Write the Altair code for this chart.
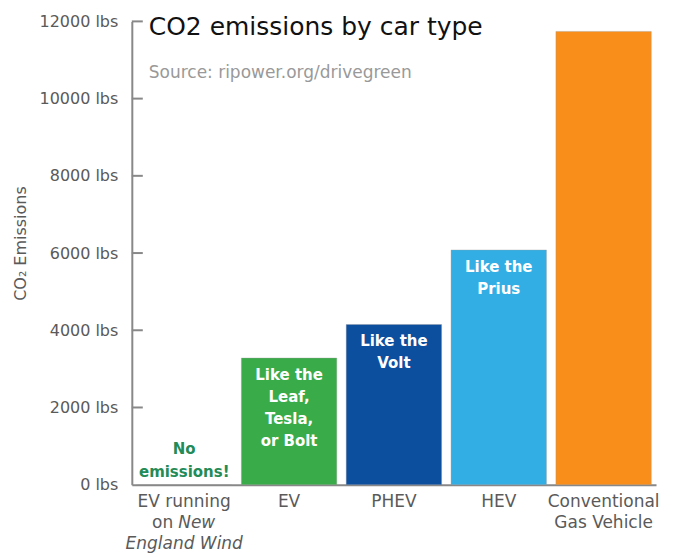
import altair as alt
import pandas as pd

# ---- data ----
categories = ["EV-Wind", "EV", "PHEV", "HEV", "Conventional"]
values = [0, 3280, 4150, 6080, 11740]
bar_colors = ["#3aab49", "#3aab49", "#0d4f9f", "#33aee4", "#f98e1a"]
bar_notes = ["", "Like the\nLeaf,\nTesla,\nor Bolt", "Like the\nVolt", "Like the\nPrius", ""]
zero_note_cat = ["EV-Wind"]
zero_note_text = ["No\nemissions!"]
label_line1 = ["EV running", "EV", "PHEV", "HEV", "Conventional\nGas Vehicle"]
label_on = ["on"]
label_new = ["New"]
label_line3 = ["England Wind"]
y_ticks = [0, 2000, 4000, 6000, 8000, 10000, 12000]

W, H = 525, 464
FONT = "DejaVu Sans"
GREY = "#888888"
LABEL = "#5a5a5a"

df = pd.DataFrame({"cat": categories, "value": values, "color": bar_colors, "note": bar_notes})
x = alt.X("cat:N", sort=categories,
          scale=alt.Scale(paddingInner=0.09, paddingOuter=0.045),
          axis=alt.Axis(title=None, labels=False, ticks=False, domain=True,
                        domainColor=GREY, domainWidth=2))

bars = alt.Chart(df).mark_bar(stroke="#9a9a9a", strokeWidth=0.6, strokeOpacity=0.6).encode(
    x=x,
    y=alt.Y("value:Q",
            scale=alt.Scale(domain=[0, 12000], nice=False, zero=True),
            axis=alt.Axis(title="CO\u2082 Emissions", values=y_ticks, grid=False, ticks=False,
                          labelExpr="datum.value + ' lbs'", labelFont=FONT, labelFontSize=16,
                          labelColor=LABEL, labelPadding=14, domainColor=GREY, domainWidth=2,
                          titleFont=FONT, titleFontSize=16, titleFontWeight="normal",
                          titleColor=LABEL, titleX=-111, titleY=222, titleAngle=-90,
                          titleAlign="center", titleBaseline="middle")),
    color=alt.Color("color:N", scale=None),
)

notes = alt.Chart(df).mark_text(
    font=FONT, fontSize=15, fontWeight="bold", color="white",
    baseline="alphabetic", dy=22, lineBreak="\n", lineHeight=22,
).encode(x=alt.X("cat:N", sort=categories), y="value:Q", text="note:N")

zdf = pd.DataFrame({"cat": zero_note_cat, "value": [0], "note": zero_note_text})
zero_note = alt.Chart(zdf).mark_text(
    font=FONT, fontSize=15, fontWeight="bold", color="#238b57",
    baseline="bottom", dy=-28, lineBreak="\n", lineHeight=23,
).encode(x=alt.X("cat:N", sort=categories), y="value:Q", text="note:N")

ticks_df = pd.DataFrame({"t": y_ticks[1:]})
tick_rules = alt.Chart(ticks_df).mark_rule(color=GREY, strokeWidth=2).encode(
    y="t:Q", x=alt.value(0), x2=alt.value(11))

l1 = alt.Chart(pd.DataFrame({"cat": categories, "txt": label_line1})).mark_text(
    font=FONT, fontSize=17, color=LABEL, baseline="middle", lineBreak="\n", lineHeight=21,
).encode(x=alt.X("cat:N", sort=categories), y=alt.value(H + 17), text="txt:N")

l2a = alt.Chart(pd.DataFrame({"cat": ["EV-Wind"], "txt": label_on})).mark_text(
    font=FONT, fontSize=17, color=LABEL, baseline="middle", align="right", dx=-11,
).encode(x=alt.X("cat:N", sort=categories), y=alt.value(H + 38), text="txt:N")

l2b = alt.Chart(pd.DataFrame({"cat": ["EV-Wind"], "txt": label_new})).mark_text(
    font=FONT, fontSize=17, color=LABEL, baseline="middle", align="left", dx=-6,
    fontStyle="italic",
).encode(x=alt.X("cat:N", sort=categories), y=alt.value(H + 38), text="txt:N")

l3 = alt.Chart(pd.DataFrame({"cat": ["EV-Wind"], "txt": label_line3})).mark_text(
    font=FONT, fontSize=17, color=LABEL, baseline="middle", fontStyle="italic",
).encode(x=alt.X("cat:N", sort=categories), y=alt.value(H + 59), text="txt:N")

chart = alt.layer(bars, tick_rules, notes, zero_note, l1, l2a, l2b, l3).properties(
    width=W, height=H, background="white",
    title=alt.TitleParams(
        text="CO2 emissions by car type",
        subtitle="Source: ripower.org/drivegreen",
        anchor="start", frame="group", orient="top", dx=17, offset=-68,
        font=FONT, fontSize=25, fontWeight="normal", color="#111111",
        subtitleFont=FONT, subtitleFontSize=17, subtitleColor="#999999",
        subtitlePadding=25,
    ),
).configure_view(stroke=None)

chart.save("out.html", embed_options={"renderer": "svg", "actions": False})
